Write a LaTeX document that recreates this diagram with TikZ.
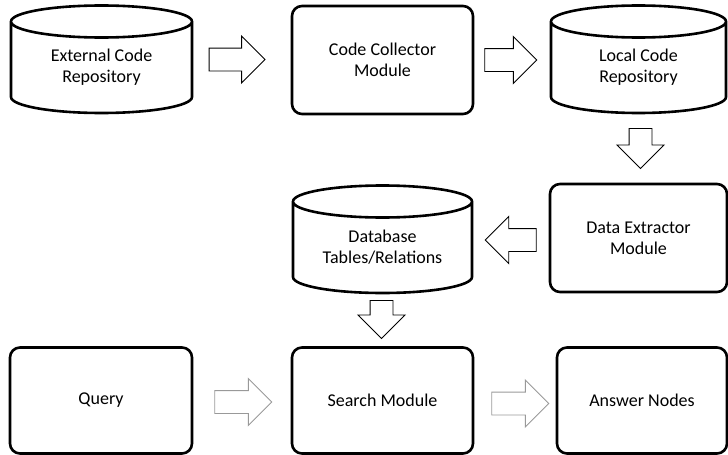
\documentclass[tikz,border=0pt]{standalone}
\usepackage{fontspec}
\setmainfont{Carlito}
\usetikzlibrary{shapes.arrows,calc}

\tikzset{
  modbox/.style={draw, line width=2.6pt, rounded corners=10pt, align=center,
    minimum width=181pt, minimum height=108pt},
  % cylinder body: node spans from the top ellipse centre to the bottom rim
  cylbody/.style={align=center, outer sep=0pt, minimum width=181pt, minimum height=91.5pt},
  cylline/.style={line width=2.6pt},
  blockarrow/.style={single arrow, draw, line width=0.9pt, inner xsep=0pt, inner ysep=11pt,
    single arrow head extend=12pt, single arrow tip angle=90, minimum height=#1, anchor=tail},
  downarrow/.style={blockarrow=#1, shape border rotate=270, inner xsep=11pt, inner ysep=0pt},
}

% outline of a drum round a cylbody node
\newcommand{\drawcyl}[1]{%
  \draw[cylline] let \p1=(#1.north west), \p2=(#1.south east), \n1={(\x2-\x1)/2} in
    (\x1,\y1) -- (\x1,\y2+16pt)
      arc[start angle=180, end angle=360, x radius=\n1*1pt, y radius=16pt] -- (\x2,\y1)
    ({(\x1+\x2)/2},\y1) ellipse[x radius=\n1*1pt, y radius=16pt];}

\begin{document}
\begin{tikzpicture}[x=1pt, y=-1pt, font=\fontsize{18}{21}\selectfont]

  %% ════ top row ════
  \node[cylbody] (ext) at (101.5,67.25) {External Code\\Repository};
  \node[modbox] (coll) at (382.5,60) {Code Collector\\Module};
  \node[cylbody, minimum width=175pt] (local) at (638.5,67.25) {Local Code\\Repository};

  %% ════ middle row ════
  \node[modbox, minimum width=177pt] (extr) at (638.5,238) {Data Extractor\\Module};
  \node[cylbody, minimum width=179pt] (db) at (382.5,247.25) {Database\\Tables/Relations};

  \drawcyl{ext}
  \drawcyl{local}
  \drawcyl{db}

  %% ════ bottom row ════
  \node[modbox, minimum width=182pt, minimum height=106pt] (query) at (101,400.5) {Query};
  \node[modbox, minimum height=106pt] (search) at (382.5,400.5) {Search Module};
  \node[modbox, minimum width=170pt, minimum height=106pt] (answer) at (642,400.5) {Answer Nodes};

  %% ════ block arrows ════
  \node[blockarrow=56pt, anchor=tip] (a1) at ($(coll.west)+(-25,-0.5)$) {};
  \node[blockarrow=52pt] (a2) at ($(coll.east)+(10,0)$) {};
  \node[downarrow=40pt] (a3) at ($(local.south)+(2,15)$) {};
  \node[blockarrow=51pt, shape border rotate=180] (a4) at ($(extr.west)+(-12,2)$) {};
  \node[downarrow=38pt] (a5) at ($(db.south)+(-1,7)$) {};
  \node[blockarrow=57pt, draw=gray!80] (a6) at ($(query.east)+(21,1.5)$) {};
  \node[blockarrow=57pt, draw=gray!80] (a7) at ($(search.east)+(17,3)$) {};

  \pgfresetboundingbox
  \path[use as bounding box] (0,0) rectangle (728,455);
\end{tikzpicture}
\end{document}
